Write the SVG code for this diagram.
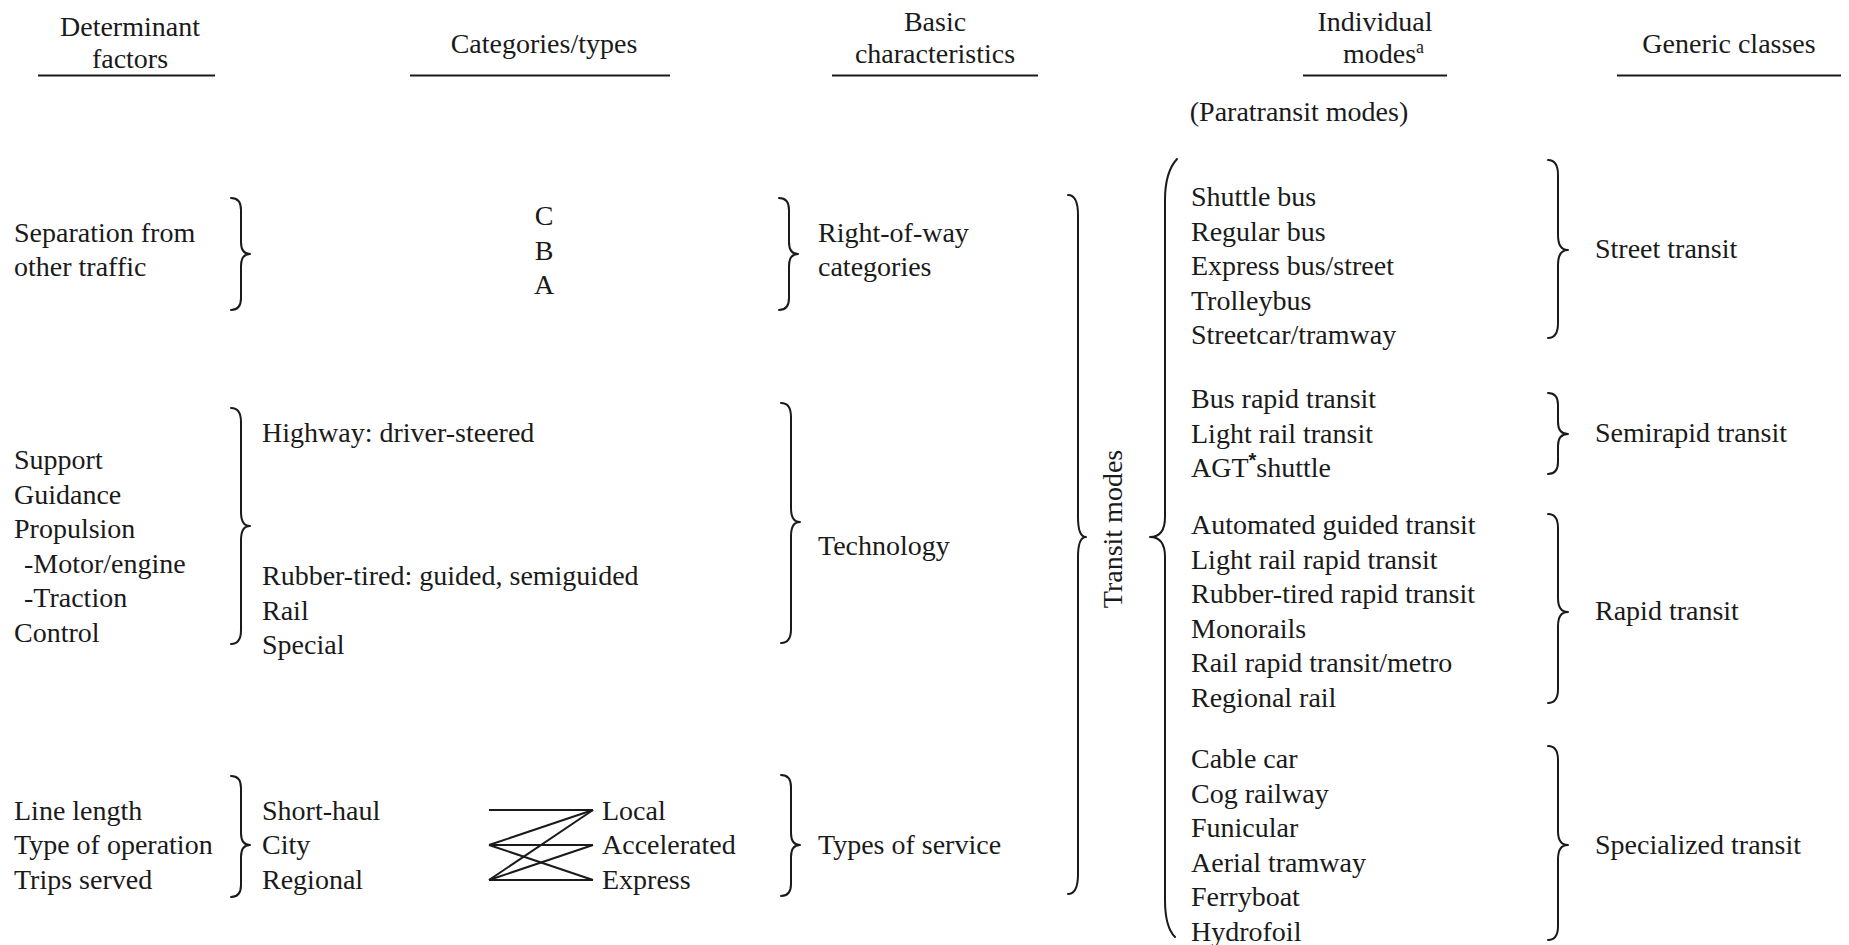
<svg xmlns="http://www.w3.org/2000/svg" width="1849" height="945" viewBox="0 0 1849 945">
<style>
text{font-size:28px;fill:#1a1a1a}
.c{text-anchor:middle}
.ul{stroke:#1a1a1a;stroke-width:2}
.br{fill:none;stroke:#1a1a1a;stroke-width:2;stroke-linecap:round;stroke-linejoin:round}
.ln{stroke:#1a1a1a;stroke-width:2;fill:none}
</style>
<rect width="1849" height="945" fill="#fff"/>
<g font-family="Liberation Serif, Times New Roman, DejaVu Serif, serif">
<g id="headers">
<g id="h-determinant"><text class="c" x="130" y="36">Determinant</text><text class="c" x="130" y="68">factors</text><line class="ul" x1="38" y1="75.5" x2="215" y2="75.5"/></g>
<g id="h-categories"><text class="c" x="544" y="53">Categories/types</text><line class="ul" x1="410" y1="75.5" x2="670" y2="75.5"/></g>
<g id="h-basic"><text class="c" x="935" y="31">Basic</text><text class="c" x="935" y="63">characteristics</text><line class="ul" x1="832" y1="75.5" x2="1038" y2="75.5"/></g>
<g id="h-modes"><text class="c" x="1375" y="31">Individual</text><text x="1343" y="63">modes<tspan font-size="18" dy="-10">a</tspan></text><line class="ul" x1="1303" y1="75.5" x2="1447" y2="75.5"/></g>
<g id="h-generic"><text class="c" x="1729" y="53">Generic classes</text><line class="ul" x1="1617" y1="75.5" x2="1841" y2="75.5"/></g>
<g id="paratransit"><text class="c" x="1299" y="121">(Paratransit modes)</text></g>
</g>
<g id="row-separation">
<g id="n-separation"><text x="14" y="242">Separation from</text><text x="14" y="276">other traffic</text></g>
<g id="n-cba"><text class="c" x="544" y="225">C</text><text class="c" x="544" y="259.5">B</text><text class="c" x="544" y="294">A</text></g>
<g id="n-row"><text x="818" y="242">Right-of-way</text><text x="818" y="276">categories</text></g>
</g>
<g id="row-technology">
<g id="n-tech-factors"><text x="14" y="469">Support</text><text x="14" y="503.6">Guidance</text><text x="14" y="538.2">Propulsion</text><text x="24" y="572.8">-Motor/engine</text><text x="24" y="607.4">-Traction</text><text x="14" y="642">Control</text></g>
<g id="n-tech-types"><text x="262" y="442">Highway: driver-steered</text><text x="262" y="585">Rubber-tired: guided, semiguided</text><text x="262" y="619.6">Rail</text><text x="262" y="654.2">Special</text></g>
<g id="n-technology"><text x="818" y="555">Technology</text></g>
</g>
<g id="row-service">
<g id="n-service-factors"><text x="14" y="819.5">Line length</text><text x="14" y="854">Type of operation</text><text x="14" y="888.5">Trips served</text></g>
<g id="n-service-scope"><text x="262" y="819.5">Short-haul</text><text x="262" y="854">City</text><text x="262" y="888.5">Regional</text></g>
<g id="n-service-kinds"><text x="602" y="819.5">Local</text><text x="602" y="854">Accelerated</text><text x="602" y="888.5">Express</text></g>
<g id="n-service"><text x="818" y="854">Types of service</text></g>
</g>
<g id="n-transit"><text class="c" transform="translate(1122,529) rotate(-90)">Transit modes</text></g>
<g id="n-modes">
<text x="1191" y="206">Shuttle bus</text><text x="1191" y="240.6">Regular bus</text><text x="1191" y="275.2">Express bus/street</text><text x="1191" y="309.8">Trolleybus</text><text x="1191" y="344.4">Streetcar/tramway</text>
<text x="1191" y="408">Bus rapid transit</text><text x="1191" y="442.6">Light rail transit</text><text x="1191" y="477.2">AGT<tspan font-family="Liberation Sans, Arial, sans-serif" font-weight="bold" font-size="20" dy="-10">*</tspan><tspan dy="10">shuttle</tspan></text>
<text x="1191" y="534">Automated guided transit</text><text x="1191" y="568.6">Light rail rapid transit</text><text x="1191" y="603.2">Rubber-tired rapid transit</text><text x="1191" y="637.8">Monorails</text><text x="1191" y="672.4">Rail rapid transit/metro</text><text x="1191" y="707">Regional rail</text>
<text x="1191" y="768">Cable car</text><text x="1191" y="802.6">Cog railway</text><text x="1191" y="837.2">Funicular</text><text x="1191" y="871.8">Aerial tramway</text><text x="1191" y="906.4">Ferryboat</text><text x="1191" y="941">Hydrofoil</text>
</g>
<g id="n-classes"><text x="1595" y="258">Street transit</text><text x="1595" y="442">Semirapid transit</text><text x="1595" y="620">Rapid transit</text><text x="1595" y="854">Specialized transit</text></g>
</g>
<g id="connectors">
<path class="br" d="M231 198 Q241 198 241 210 L241 242 Q241 254 250 254 Q241 254 241 266 L241 298 Q241 310 231 310"/>
<path class="br" d="M779 198 Q789 198 789 210 L789 242 Q789 254 798 254 Q789 254 789 266 L789 298 Q789 310 779 310"/>
<path class="br" d="M231 408 Q241 408 241 422 L241 512 Q241 526 250 526 Q241 526 241 540 L241 630 Q241 644 231 644"/>
<path class="br" d="M781 403 Q791 403 791 417 L791 508 Q791 522 800 522 Q791 522 791 536 L791 629 Q791 643 781 643"/>
<path class="br" d="M231 776 Q241 776 241 788 L241 833 Q241 845 250 845 Q241 845 241 857 L241 885 Q241 897 231 897"/>
<path class="br" d="M781 775 Q791 775 791 787 L791 833 Q791 845 800 845 Q791 845 791 857 L791 884 Q791 896 781 896"/>
<path class="br" d="M1068 195 Q1078 195 1078 215 L1078 517 Q1078 537 1086 537 Q1078 537 1078 557 L1078 874 Q1078 894 1068 894"/>
<path class="br" d="M1177 159 Q1165 172 1165 200 L1165 517 Q1165 537 1150 537 Q1165 537 1165 557 L1165 900 Q1165 927 1175 937"/>
<path class="br" d="M1548 160 Q1558 160 1558 175 L1558 235 Q1558 250 1568 250 Q1558 250 1558 265 L1558 323 Q1558 338 1548 338"/>
<path class="br" d="M1548 393 Q1558 393 1558 405 L1558 422 Q1558 434 1568 434 Q1558 434 1558 446 L1558 462 Q1558 474 1548 474"/>
<path class="br" d="M1548 514 Q1558 514 1558 528 L1558 598 Q1558 612 1568 612 Q1558 612 1558 626 L1558 689 Q1558 703 1548 703"/>
<path class="br" d="M1548 746 Q1558 746 1558 760 L1558 831 Q1558 845 1568 845 Q1558 845 1558 859 L1558 926 Q1558 940 1548 940"/>
<line class="ln" x1="489" y1="810" x2="593" y2="810"/>
<line class="ln" x1="489" y1="845" x2="593" y2="845"/>
<line class="ln" x1="489" y1="880" x2="593" y2="880"/>
<line class="ln" x1="489" y1="845" x2="593" y2="810"/>
<line class="ln" x1="489" y1="845" x2="593" y2="880"/>
<line class="ln" x1="489" y1="880" x2="593" y2="810"/>
<line class="ln" x1="489" y1="880" x2="593" y2="845"/>
</g>
</svg>
